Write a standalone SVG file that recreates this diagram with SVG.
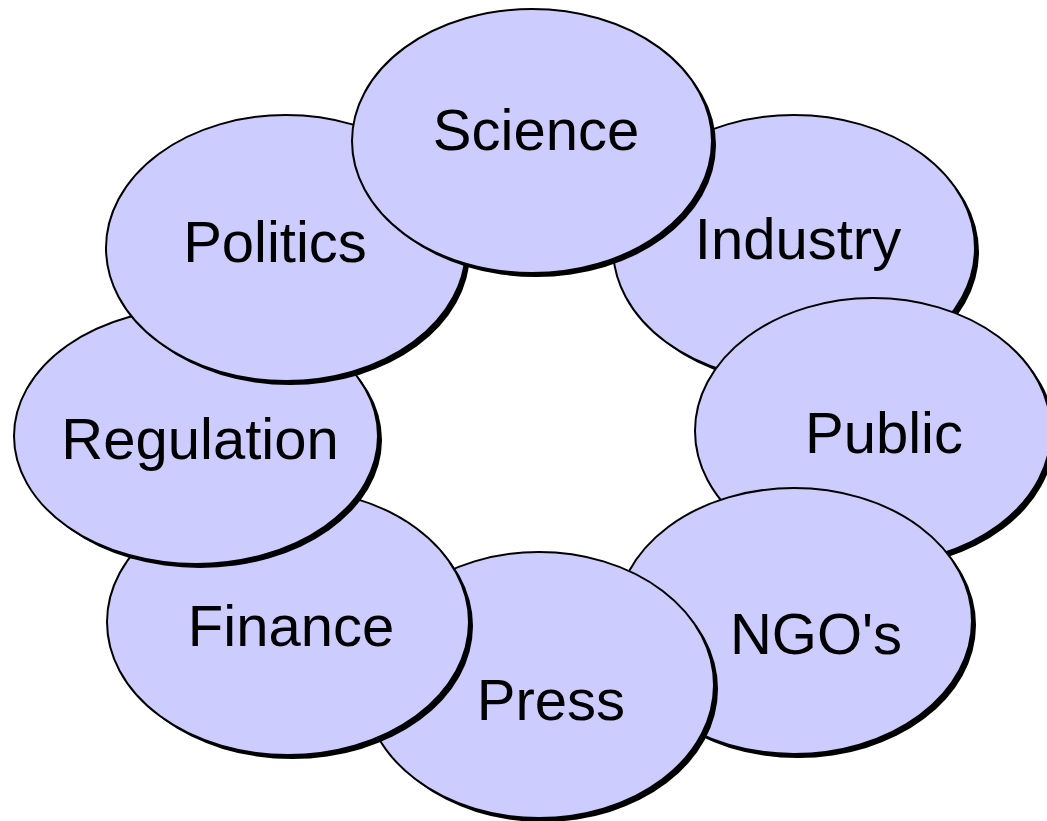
<svg xmlns="http://www.w3.org/2000/svg" width="1047" height="821" viewBox="0 0 1047 821">
  <style>
    .shadow { fill: #000000; }
    .bubble { fill: #CCCCFF; stroke: #000000; stroke-width: 2; }
    .label { font-family: "Liberation Sans", Arial, sans-serif; font-size: 58px; fill: #000000; text-anchor: middle; }
  </style>
  <rect x="0" y="0" width="1047" height="821" fill="#FFFFFF"/>
  <!-- connectors: none, the bubbles simply overlap in a ring -->
  <g id="connectors"></g>
  <!-- back-to-front order so each bubble overlaps the previous one -->
  <g id="industry">
    <ellipse class="shadow" cx="798" cy="252" rx="181" ry="133"/>
    <ellipse class="bubble" cx="794" cy="248" rx="181" ry="133"/>
    <text class="label" x="798" y="259">Industry</text>
  </g>
  <g id="public">
    <ellipse class="shadow" cx="877" cy="435" rx="178" ry="133"/>
    <ellipse class="bubble" cx="873" cy="431" rx="178" ry="133"/>
    <text class="label" x="884" y="453">Public</text>
  </g>
  <g id="ngos">
    <ellipse class="shadow" cx="798" cy="625" rx="178" ry="133"/>
    <ellipse class="bubble" cx="794" cy="621" rx="178" ry="133"/>
    <text class="label" x="816" y="654">NGO's</text>
  </g>
  <g id="press">
    <ellipse class="shadow" cx="543" cy="689" rx="175" ry="133"/>
    <ellipse class="bubble" cx="539" cy="685" rx="175" ry="133"/>
    <text class="label" x="551" y="720">Press</text>
  </g>
  <g id="finance">
    <ellipse class="shadow" cx="292" cy="626" rx="181" ry="133"/>
    <ellipse class="bubble" cx="288" cy="622" rx="181" ry="133"/>
    <text class="label" x="291" y="646">Finance</text>
  </g>
  <g id="regulation">
    <ellipse class="shadow" cx="200" cy="440" rx="182" ry="128"/>
    <ellipse class="bubble" cx="196" cy="436" rx="182" ry="128"/>
    <text class="label" x="200" y="459">Regulation</text>
  </g>
  <g id="politics">
    <ellipse class="shadow" cx="290" cy="252" rx="180" ry="133"/>
    <ellipse class="bubble" cx="286" cy="248" rx="180" ry="133"/>
    <text class="label" x="275" y="262">Politics</text>
  </g>
  <g id="science">
    <ellipse class="shadow" cx="536" cy="145" rx="180" ry="132"/>
    <ellipse class="bubble" cx="532" cy="141" rx="180" ry="132"/>
    <text class="label" x="536" y="150">Science</text>
  </g>
</svg>
